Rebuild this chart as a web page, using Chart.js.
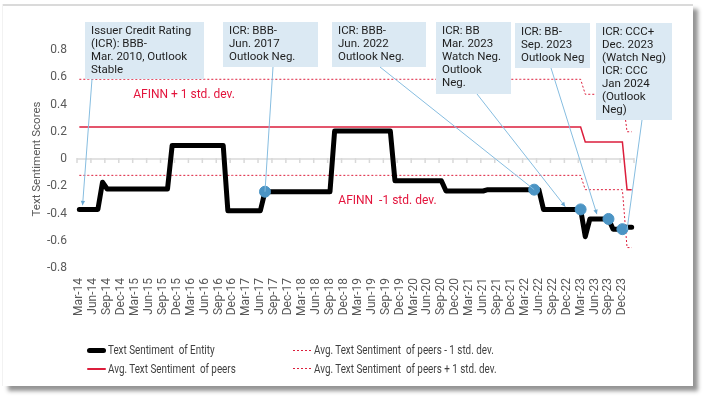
<!DOCTYPE html>
<html>
<head>
<meta charset="utf-8">
<script src="https://cdn.jsdelivr.net/npm/chart.js"></script>
<style>
  html, body { margin: 0; padding: 0; background: #fff; }
  body { width: 705px; height: 398px; position: relative; overflow: hidden; }
  #card { position: absolute; left: 3px; top: 4px; width: 690px; height: 382px; background: #fff;
          border-top: 2px solid #dadada; box-sizing: border-box;
          box-shadow: 5px 5px 4px rgba(0,0,0,0.42), -1px 0 0 #f2f2f2; }
  #chart { position: absolute; left: 0; top: 0; }
  #legend { position: absolute; left: 87px; top: 341px; display: grid; grid-auto-flow: column;
            grid-template-rows: 18.5px 18.5px; grid-template-columns: 206px 200px;
            font: 12px Roboto, sans-serif; color: #3f3f3f; }
  .item { display: flex; align-items: center; white-space: pre; }
  .swatch { width: 19px; margin-right: 2px; flex: none; }
  .txt { display: inline-block; transform: scaleX(0.82); transform-origin: 0 50%; }
</style>
</head>
<body>
<div id="card"></div>
<canvas id="chart" width="705" height="398"></canvas>
<div id="legend"></div>
<script>
// monthly categories, Mar-14 .. Feb-24 (every third one is shown on the axis)
const months = [
  'Mar-14','Apr-14','May-14','Jun-14','Jul-14','Aug-14','Sep-14','Oct-14','Nov-14','Dec-14',
  'Jan-15','Feb-15','Mar-15','Apr-15','May-15','Jun-15','Jul-15','Aug-15','Sep-15','Oct-15','Nov-15','Dec-15',
  'Jan-16','Feb-16','Mar-16','Apr-16','May-16','Jun-16','Jul-16','Aug-16','Sep-16','Oct-16','Nov-16','Dec-16',
  'Jan-17','Feb-17','Mar-17','Apr-17','May-17','Jun-17','Jul-17','Aug-17','Sep-17','Oct-17','Nov-17','Dec-17',
  'Jan-18','Feb-18','Mar-18','Apr-18','May-18','Jun-18','Jul-18','Aug-18','Sep-18','Oct-18','Nov-18','Dec-18',
  'Jan-19','Feb-19','Mar-19','Apr-19','May-19','Jun-19','Jul-19','Aug-19','Sep-19','Oct-19','Nov-19','Dec-19',
  'Jan-20','Feb-20','Mar-20','Apr-20','May-20','Jun-20','Jul-20','Aug-20','Sep-20','Oct-20','Nov-20','Dec-20',
  'Jan-21','Feb-21','Mar-21','Apr-21','May-21','Jun-21','Jul-21','Aug-21','Sep-21','Oct-21','Nov-21','Dec-21',
  'Jan-22','Feb-22','Mar-22','Apr-22','May-22','Jun-22','Jul-22','Aug-22','Sep-22','Oct-22','Nov-22','Dec-22',
  'Jan-23','Feb-23','Mar-23','Apr-23','May-23','Jun-23','Jul-23','Aug-23','Sep-23','Oct-23','Nov-23','Dec-23',
  'Jan-24','Feb-24'
];

const entity = [
  -0.37, -0.37, -0.37, -0.37, -0.37, -0.17, -0.22, -0.22, -0.22, -0.22,
  -0.22, -0.22, -0.22, -0.22, -0.22, -0.22, -0.22, -0.22, -0.22, -0.22, 0.10, 0.10,
  0.10, 0.10, 0.10, 0.10, 0.10, 0.10, 0.10, 0.10, 0.10, 0.10, -0.38, -0.38,
  -0.38, -0.38, -0.38, -0.38, -0.38, -0.38, -0.24, -0.24, -0.24, -0.24, -0.24, -0.24,
  -0.24, -0.24, -0.24, -0.24, -0.24, -0.24, -0.24, -0.24, -0.24, 0.205, 0.205, 0.205,
  0.205, 0.205, 0.205, 0.205, 0.205, 0.205, 0.205, 0.205, 0.205, 0.205, -0.16, -0.16,
  -0.16, -0.16, -0.16, -0.16, -0.16, -0.16, -0.16, -0.16, -0.16, -0.235, -0.235, -0.235,
  -0.235, -0.235, -0.235, -0.235, -0.235, -0.235, -0.225, -0.225, -0.225, -0.225, -0.225, -0.225,
  -0.225, -0.225, -0.225, -0.225, -0.225, -0.225, -0.37, -0.37, -0.37, -0.37, -0.37, -0.37,
  -0.37, -0.37, -0.37, -0.57, -0.44, -0.44, -0.44, -0.44, -0.44, -0.515, -0.515, -0.515,
  -0.50, -0.50
];

const peersAvg = [
  0.235, 0.235, 0.235, 0.235, 0.235, 0.235, 0.235, 0.235, 0.235, 0.235,
  0.235, 0.235, 0.235, 0.235, 0.235, 0.235, 0.235, 0.235, 0.235, 0.235, 0.235, 0.235,
  0.235, 0.235, 0.235, 0.235, 0.235, 0.235, 0.235, 0.235, 0.235, 0.235, 0.235, 0.235,
  0.235, 0.235, 0.235, 0.235, 0.235, 0.235, 0.235, 0.235, 0.235, 0.235, 0.235, 0.235,
  0.235, 0.235, 0.235, 0.235, 0.235, 0.235, 0.235, 0.235, 0.235, 0.235, 0.235, 0.235,
  0.235, 0.235, 0.235, 0.235, 0.235, 0.235, 0.235, 0.235, 0.235, 0.235, 0.235, 0.235,
  0.235, 0.235, 0.235, 0.235, 0.235, 0.235, 0.235, 0.235, 0.235, 0.235, 0.235, 0.235,
  0.235, 0.235, 0.235, 0.235, 0.235, 0.235, 0.235, 0.235, 0.235, 0.235, 0.235, 0.235,
  0.235, 0.235, 0.235, 0.235, 0.235, 0.235, 0.235, 0.235, 0.235, 0.235, 0.235, 0.235,
  0.235, 0.235, 0.235, 0.125, 0.125, 0.125, 0.125, 0.125, 0.125, 0.125, 0.125, 0.125,
  -0.225, -0.225
];

const peersLow = [
  -0.12, -0.12, -0.12, -0.12, -0.12, -0.12, -0.12, -0.12, -0.12, -0.12,
  -0.12, -0.12, -0.12, -0.12, -0.12, -0.12, -0.12, -0.12, -0.12, -0.12, -0.12, -0.12,
  -0.12, -0.12, -0.12, -0.12, -0.12, -0.12, -0.12, -0.12, -0.12, -0.12, -0.12, -0.12,
  -0.12, -0.12, -0.12, -0.12, -0.12, -0.12, -0.12, -0.12, -0.12, -0.12, -0.12, -0.12,
  -0.12, -0.12, -0.12, -0.12, -0.12, -0.12, -0.12, -0.12, -0.12, -0.12, -0.12, -0.12,
  -0.12, -0.12, -0.12, -0.12, -0.12, -0.12, -0.12, -0.12, -0.12, -0.12, -0.12, -0.12,
  -0.12, -0.12, -0.12, -0.12, -0.12, -0.12, -0.12, -0.12, -0.12, -0.12, -0.12, -0.12,
  -0.12, -0.12, -0.12, -0.12, -0.12, -0.12, -0.12, -0.12, -0.12, -0.12, -0.12, -0.12,
  -0.12, -0.12, -0.12, -0.12, -0.12, -0.12, -0.12, -0.12, -0.12, -0.12, -0.12, -0.12,
  -0.12, -0.12, -0.12, -0.225, -0.225, -0.225, -0.225, -0.225, -0.225, -0.225, -0.225, -0.225,
  -0.65, -0.65
];

const peersHigh = [
  0.585, 0.585, 0.585, 0.585, 0.585, 0.585, 0.585, 0.585, 0.585, 0.585,
  0.585, 0.585, 0.585, 0.585, 0.585, 0.585, 0.585, 0.585, 0.585, 0.585, 0.585, 0.585,
  0.585, 0.585, 0.585, 0.585, 0.585, 0.585, 0.585, 0.585, 0.585, 0.585, 0.585, 0.585,
  0.585, 0.585, 0.585, 0.585, 0.585, 0.585, 0.585, 0.585, 0.585, 0.585, 0.585, 0.585,
  0.585, 0.585, 0.585, 0.585, 0.585, 0.585, 0.585, 0.585, 0.585, 0.585, 0.585, 0.585,
  0.585, 0.585, 0.585, 0.585, 0.585, 0.585, 0.585, 0.585, 0.585, 0.585, 0.585, 0.585,
  0.585, 0.585, 0.585, 0.585, 0.585, 0.585, 0.585, 0.585, 0.585, 0.585, 0.585, 0.585,
  0.585, 0.585, 0.585, 0.585, 0.585, 0.585, 0.585, 0.585, 0.585, 0.585, 0.585, 0.585,
  0.585, 0.585, 0.585, 0.585, 0.585, 0.585, 0.585, 0.585, 0.585, 0.585, 0.585, 0.585,
  0.585, 0.585, 0.585, 0.475, 0.475, 0.475, 0.475, 0.475, 0.475, 0.475, 0.475, 0.475,
  0.20, 0.20
];

// rating action markers on the entity line
const ratingMonths = ['Jul-17', 'May-22', 'Mar-23', 'Sep-23', 'Dec-23'];
const ratingScores = [-0.24, -0.225, -0.37, -0.44, -0.515];

const yTicks = [-0.8, -0.6, -0.4, -0.2, 0, 0.2, 0.4, 0.6, 0.8];

// callout boxes: text, box (px), leader start (px), leader end (category index, score)
const callouts = [
  { text: ['Issuer Credit Rating', '(ICR): BBB-', 'Mar. 2010, Outlook', 'Stable'],
    box: [85, 22, 119, 57], from: [92, 79], to: [0.7, -0.34], arrow: true },
  { text: ['ICR: BBB-', 'Jun. 2017', 'Outlook Neg.'],
    box: [223, 22, 95, 45], from: [273, 67], to: [40, -0.24], arrow: false },
  { text: ['ICR: BBB-', 'Jun. 2022', 'Outlook Neg.'],
    box: [332, 22, 94, 45], from: [380, 67], to: [98, -0.225], arrow: false },
  { text: ['ICR: BB', 'Mar. 2023', 'Watch Neg.', 'Outlook', 'Neg.'],
    box: [436, 22, 75, 72], from: [477, 94], to: [104.7, -0.35], arrow: true },
  { text: ['ICR: BB-', 'Sep. 2023', 'Outlook Neg'],
    box: [515, 23, 75, 45], from: [551, 68], to: [111.5, -0.405], arrow: true },
  { text: ['ICR: CCC+', 'Dec. 2023', '(Watch Neg)', 'ICR: CCC', 'Jan 2024', '(Outlook', 'Neg)'],
    box: [596, 23, 76, 97], from: [642, 120], to: [118, -0.52], arrow: false }
];

const bandLabels = [
  { text: 'AFINN + 1 std. dev.', at: [11.6, 0.47] },
  { text: 'AFINN  -1 std. dev.', at: [55.8, -0.31] }
];

const RED = '#dc1e3c';
const BLUE = '#4b94c4';

const zeroAxis = {
  id: 'zeroAxis',
  beforeDatasetsDraw(chart) {
    const { ctx, chartArea, scales: { x, y } } = chart;
    const y0 = y.getPixelForValue(0);
    const half = (x.getPixelForValue(1) - x.getPixelForValue(0)) / 2;
    ctx.save();
    ctx.strokeStyle = '#d9d9d9';
    ctx.lineWidth = 1.5;
    ctx.beginPath();
    ctx.moveTo(chartArea.left, y0);
    ctx.lineTo(chartArea.right, y0);
    for (let i = 0; i <= months.length; i += 3) {
      const px = x.getPixelForValue(i) - half;
      ctx.moveTo(px, y0 - 1);
      ctx.lineTo(px, y0 + 4);
    }
    ctx.stroke();
    ctx.restore();
  }
};

const calloutPlugin = {
  id: 'callouts',
  afterDatasetsDraw(chart) {
    const { ctx, scales: { x, y } } = chart;
    ctx.save();
    // red band labels
    ctx.fillStyle = '#e3143c';
    ctx.font = '12px Roboto';
    ctx.textBaseline = 'middle';
    bandLabels.forEach(b => {
      ctx.fillText(b.text, x.getPixelForValue(b.at[0]), y.getPixelForValue(b.at[1]));
    });
    // boxes
    callouts.forEach(c => {
      const [bx, by, bw, bh] = c.box;
      ctx.fillStyle = '#dbe9f3';
      ctx.fillRect(bx, by, bw, bh);
      ctx.fillStyle = '#1e1e1e';
      ctx.font = '11.5px Roboto';
      c.text.forEach((t, k) => ctx.fillText(t, bx + 6, by + 9.5 + k * 12.9));
    });
    // leaders
    ctx.strokeStyle = '#86bde0';
    ctx.fillStyle = '#6aa8d2';
    ctx.lineWidth = 1;
    callouts.forEach(c => {
      const x1 = c.from[0], y1 = c.from[1];
      const x2 = x.getPixelForValue(c.to[0]), y2 = y.getPixelForValue(c.to[1]);
      ctx.beginPath();
      ctx.moveTo(x1, y1);
      ctx.lineTo(x2, y2);
      ctx.stroke();
      if (c.arrow) {
        const a = Math.atan2(y2 - y1, x2 - x1);
        ctx.beginPath();
        ctx.moveTo(x2, y2);
        ctx.lineTo(x2 - 5 * Math.cos(a - 0.45), y2 - 5 * Math.sin(a - 0.45));
        ctx.lineTo(x2 - 5 * Math.cos(a + 0.45), y2 - 5 * Math.sin(a + 0.45));
        ctx.closePath();
        ctx.fill();
      }
    });
    ctx.restore();
  }
};

const chart = new Chart(document.getElementById('chart'), {
  type: 'line',
  data: {
    labels: months,
    datasets: [
      { label: 'Text Sentiment  of Entity', data: entity, borderColor: '#000', backgroundColor: '#000',
        borderWidth: 5, borderCapStyle: 'round', borderJoinStyle: 'round', pointRadius: 0, order: 1 },
      { label: 'Avg. Text Sentiment  of peers', data: peersAvg, borderColor: RED, backgroundColor: RED,
        borderWidth: 1.5, pointRadius: 0, order: 2 },
      { label: 'Avg. Text Sentiment  of peers - 1 std. dev.', data: peersLow, borderColor: RED, backgroundColor: RED,
        borderWidth: 1, borderDash: [2, 2], pointRadius: 0, order: 3 },
      { label: 'Avg. Text Sentiment  of peers + 1 std. dev.', data: peersHigh, borderColor: RED, backgroundColor: RED,
        borderWidth: 1, borderDash: [2, 2], pointRadius: 0, order: 4 },
      { label: 'ICR', data: ratingMonths.map((m, k) => ({ x: m, y: ratingScores[k] })), showLine: false,
        pointRadius: 5.5, pointBackgroundColor: BLUE, pointBorderColor: BLUE, order: 0 }
    ]
  },
  options: {
    responsive: false,
    animation: false,
    layout: { padding: { left: 0, top: 50, right: 71, bottom: 70 } },
    plugins: { legend: { display: false }, tooltip: { enabled: false } },
    scales: {
      x: {
        offset: true,
        grid: { display: false, drawTicks: false },
        border: { display: false },
        afterFit: s => { s.height = 60; },
        ticks: {
          autoSkip: false, maxRotation: 90, minRotation: 90, padding: 10,
          color: '#595959', font: { family: 'Roboto', size: 12 },
          callback: (v, i) => (i % 3 === 0 ? months[i] : '')
        }
      },
      y: {
        min: -0.8, max: 0.8,
        grid: { display: false, drawTicks: false },
        border: { display: false },
        afterFit: s => { s.width = 77; },
        afterBuildTicks: s => { s.ticks = yTicks.map(v => ({ value: v })); },
        ticks: {
          padding: 10, color: '#595959', font: { family: 'Roboto', size: 12 },
          callback: v => (Math.abs(v) < 1e-9 ? '0' : v.toFixed(1))
        },
        title: {
          display: true, text: 'Text Sentiment Scores', color: '#595959',
          font: { family: 'Roboto', size: 11.5 }, padding: { top: 30, bottom: 0 }
        }
      }
    }
  },
  plugins: [zeroAxis, calloutPlugin]
});

// legend in two columns, built from the datasets
const legendEl = document.getElementById('legend');
chart.data.datasets.filter(d => d.showLine !== false).forEach(d => {
  const item = document.createElement('div');
  item.className = 'item';
  const sw = document.createElement('span');
  sw.className = 'swatch';
  sw.style.height = d.borderWidth + 'px';
  if (d.borderDash) {
    sw.style.background = `repeating-linear-gradient(to right, ${d.borderColor} 0 2px, transparent 2px 4px)`;
  } else {
    sw.style.background = d.borderColor;
    sw.style.borderRadius = '3px';
  }
  const txt = document.createElement('span');
  txt.className = 'txt';
  txt.textContent = d.label;
  item.appendChild(sw);
  item.appendChild(txt);
  legendEl.appendChild(item);
});
</script>
</body>
</html>
